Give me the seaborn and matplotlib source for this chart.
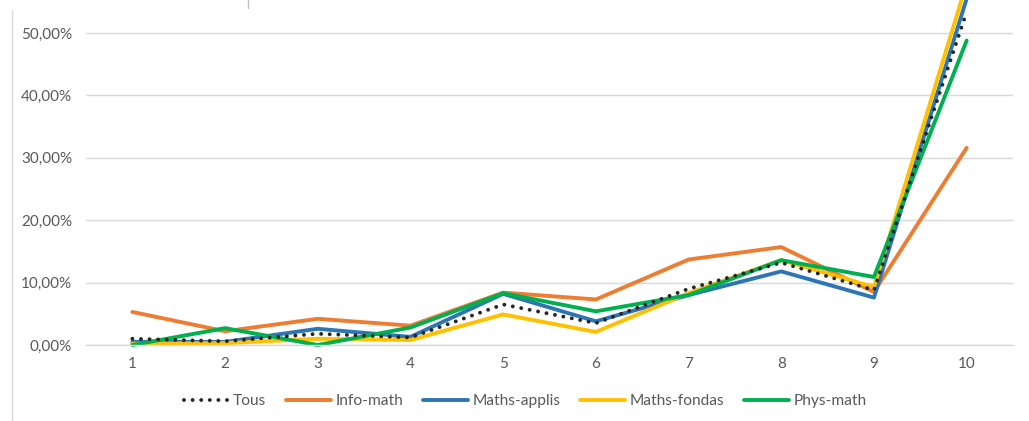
import pandas as pd
import matplotlib.pyplot as plt
import matplotlib.lines as mlines
import seaborn as sns

# deciles
categories = [1, 2, 3, 4, 5, 6, 7, 8, 9, 10]

# shares in % per decile
tous = [1.0, 0.6, 1.8, 1.2, 6.5, 3.5, 9.0, 13.2, 8.8, 53.4]
info_math = [5.3, 2.2, 4.2, 3.1, 8.4, 7.3, 13.7, 15.7, 8.5, 31.6]
maths_applis = [0.5, 0.5, 2.6, 1.3, 8.2, 3.8, 8.0, 11.8, 7.6, 55.5]
maths_fondas = [0.2, 0.3, 1.0, 0.8, 4.9, 2.1, 8.3, 13.6, 9.3, 58.0]
phys_math = [0.0, 2.7, 0.0, 2.8, 8.3, 5.4, 8.0, 13.6, 10.9, 48.8]

series_names = ["Tous", "Info-math", "Maths-applis", "Maths-fondas", "Phys-math"]
colors = ["#262626", "#ED7D31", "#2E75B6", "#FFC000", "#00B050"]


def main():
    sns.set_theme(style="white")
    plt.rcParams["font.family"] = ["Lato", "DejaVu Sans"]

    rows = []
    for name, vals in zip(series_names,
                          [tous, info_math, maths_applis, maths_fondas, phys_math]):
        for c, v in zip(categories, vals):
            rows.append({"decile": c, "part": v / 100, "serie": name})
    df = pd.DataFrame(rows)

    fig = plt.figure(figsize=(10.29, 4.21), dpi=100)
    ax = fig.add_axes([86 / 1029, 1 - 345 / 421, 927 / 1029, 345 / 421])

    handles = []
    for name, col in zip(series_names, colors):
        sub = df[df["serie"] == name]
        sns.lineplot(data=sub, x="decile", y="part", color=col, lw=2.8, ax=ax,
                     legend=False)
        ln = ax.lines[-1]
        ln.set_clip_on(False)
        h = mlines.Line2D([], [], color=col, lw=2.8)
        if name == "Tous":
            ln.set_dashes([0.01, 2.2])
            ln.set_dash_capstyle("round")
            ln.set_zorder(5)
            h.set_dashes([0.01, 2.2])
            h.set_dash_capstyle("round")
        else:
            h.set_solid_capstyle("round")
        handles.append(h)

    ax.set_xlim(0.5, 10.5)
    ax.set_ylim(0, 0.553)
    ax.set_xticks(categories)
    ax.set_xticklabels([str(c) for c in categories])
    yt = [0, 0.1, 0.2, 0.3, 0.4, 0.5]
    ax.set_yticks(yt)
    ax.set_yticklabels([f"{v * 100:.2f}%".replace(".", ",") for v in yt])
    ax.yaxis.grid(True, color="#d9d9d9", lw=1)
    ax.set_axisbelow(True)
    for s in ["top", "right", "left"]:
        ax.spines[s].set_visible(False)
    ax.spines["bottom"].set_color("#d9d9d9")
    ax.spines["bottom"].set_linewidth(1)
    ax.tick_params(axis="both", colors="#595959", labelsize=11, length=0)
    ax.tick_params(axis="y", pad=10)
    ax.tick_params(axis="x", pad=9)
    ax.set_xlabel("")
    ax.set_ylabel("")

    fig.legend(handles, series_names, loc="center",
               bbox_to_anchor=(525 / 1029, 1 - 401 / 421),
               ncol=5, frameon=False, fontsize=11.2, handlelength=2.9,
               handletextpad=0.25, columnspacing=1.3, labelcolor="#595959")

    # frame leftovers from the cropped sheet
    fig.add_artist(mlines.Line2D([12 / 1029, 12 / 1029], [0, 1 - 10 / 421],
                                 color="#d9d9d9", lw=1))
    fig.add_artist(mlines.Line2D([248 / 1029, 248 / 1029], [1 - 8 / 421, 1],
                                 color="#bfbfbf", lw=1))

    fig.savefig("out.png", dpi=100)
    plt.close(fig)


if __name__ == "__main__":
    main()
